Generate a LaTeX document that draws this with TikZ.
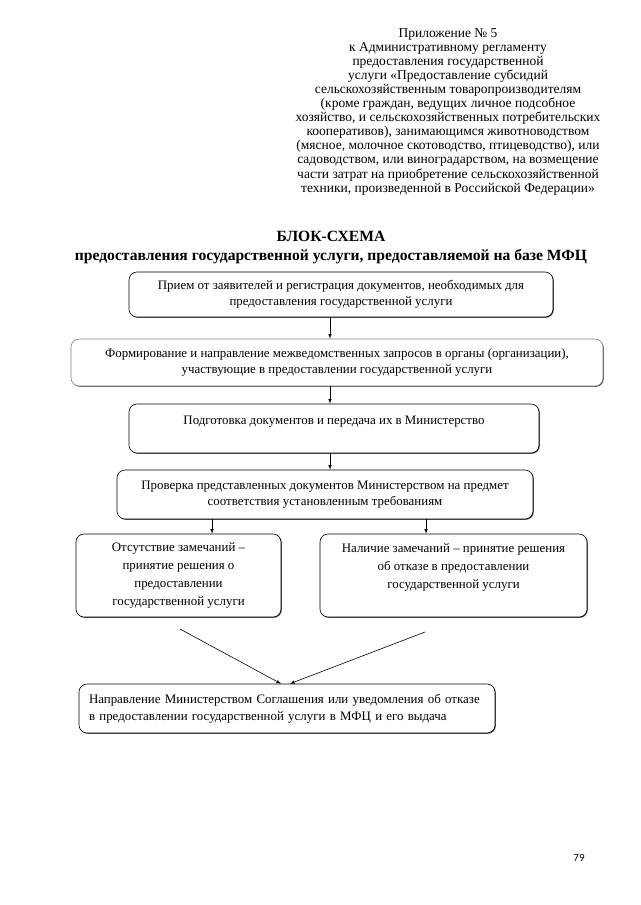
\documentclass[tikz,border=0pt]{standalone}
\usepackage{fontspec}
\setmainfont{Liberation Serif}
\newfontfamily\pagefont{Carlito}
\usetikzlibrary{shadows}
\tikzset{>=latex}

\begin{document}
\begin{tikzpicture}[x=1pt,y=-1pt]
\useasboundingbox (0,0) rectangle (640,905);
\node (hdr) [anchor=north,align=center,inner sep=0pt,font=\fontsize{13.5}{14.1}\selectfont] at (448,28) {Приложение № 5\\
к Административному регламенту\\
предоставления государственной\\
услуги «Предоставление субсидий\\
сельскохозяйственным товаропроизводителям\\
(кроме граждан, ведущих личное подсобное\\
хозяйство, и сельскохозяйственных потребительских\\
кооперативов), занимающимся животноводством\\
(мясное, молочное скотоводство, птицеводство), или\\
садоводством, или виноградарством, на возмещение\\
части затрат на приобретение сельскохозяйственной\\
техники, произведенной в Российской Федерации»};
\node (ttl) [align=center,inner sep=0pt,font=\bfseries\fontsize{15.6}{19}\selectfont] at (331,248) {БЛОК-СХЕМА\\
предоставления государственной услуги, предоставляемой на базе МФЦ};
\begin{scope}[every node/.style={rectangle,rounded corners=8pt,draw,line width=0.6pt,fill=white,align=center,inner sep=0pt,
    drop shadow={shadow xshift=0.8pt,shadow yshift=-0.8pt,opacity=0.7,fill=black},
    font=\fontsize{12.9}{15.5}\selectfont}]
\node (recv) [minimum width=424pt,minimum height=45pt] at (341,294.5) {Прием от заявителей и регистрация документов, необходимых для\\ предоставления государственной услуги};
\node (reqs) [draw=gray,minimum width=532pt,minimum height=47pt] at (337,362.5) {Формирование и направление межведомственных запросов в органы (организации),\\ участвующие в предоставлении государственной услуги};
\node (prep) [minimum width=410pt,minimum height=49pt] at (334,428.5) {Подготовка документов и передача их в Министерство\\ ~};
\node (check) [minimum width=416pt,minimum height=49pt] at (325,494.5) {Проверка представленных документов Министерством на предмет\\ соответствия установленным требованиям};
\node (yes) [minimum width=205pt,minimum height=83pt,font=\fontsize{12.9}{18}\selectfont] at (178.5,575.5) {Отсутствие замечаний –\\ принятие решения о\\ предоставлении\\ государственной услуги};
\node (no) [minimum width=267pt,minimum height=83pt,font=\fontsize{12.9}{18}\selectfont] at (453.5,575.5) {Наличие замечаний – принятие решения\\ об отказе в предоставлении\\ государственной услуги\\ ~};
\node (send) [minimum width=416pt,minimum height=49pt,align=left,text width=396pt,font=\fontsize{12.9}{17}\selectfont] at (287,708.5) {Направление Министерством Соглашения или уведомления об отказе\\ в предоставлении государственной услуги в МФЦ и его выдача};
\end{scope}
\coordinate (mid) at (330,0);
\coordinate (lft) at (212,0);
\coordinate (rgt) at (426,0);
\coordinate (yesend) at (180,629);
\coordinate (noend) at (425,632);
\begin{scope}[every edge/.style={draw=black,line width=0.6pt}]
    \path [->] (recv.south -| mid) edge (reqs.north -| mid);
    \path [->] (reqs.south -| mid) edge (prep.north -| mid);
    \path [->] (prep.south -| mid) edge (check.north -| mid);

    \path [->] (check.south -| lft) edge (yes.north -| lft);
    \path [->] (check.south -| rgt) edge (no.north -| rgt);

    \path [->] (yesend) edge ([xshift=-6pt]send.north);
    \path [->] (noend) edge ([xshift=3pt]send.north);
\end{scope}
\node (pg) [font=\pagefont\fontsize{11}{12}\selectfont] at (579,858) {79};
\end{tikzpicture}
\end{document}
